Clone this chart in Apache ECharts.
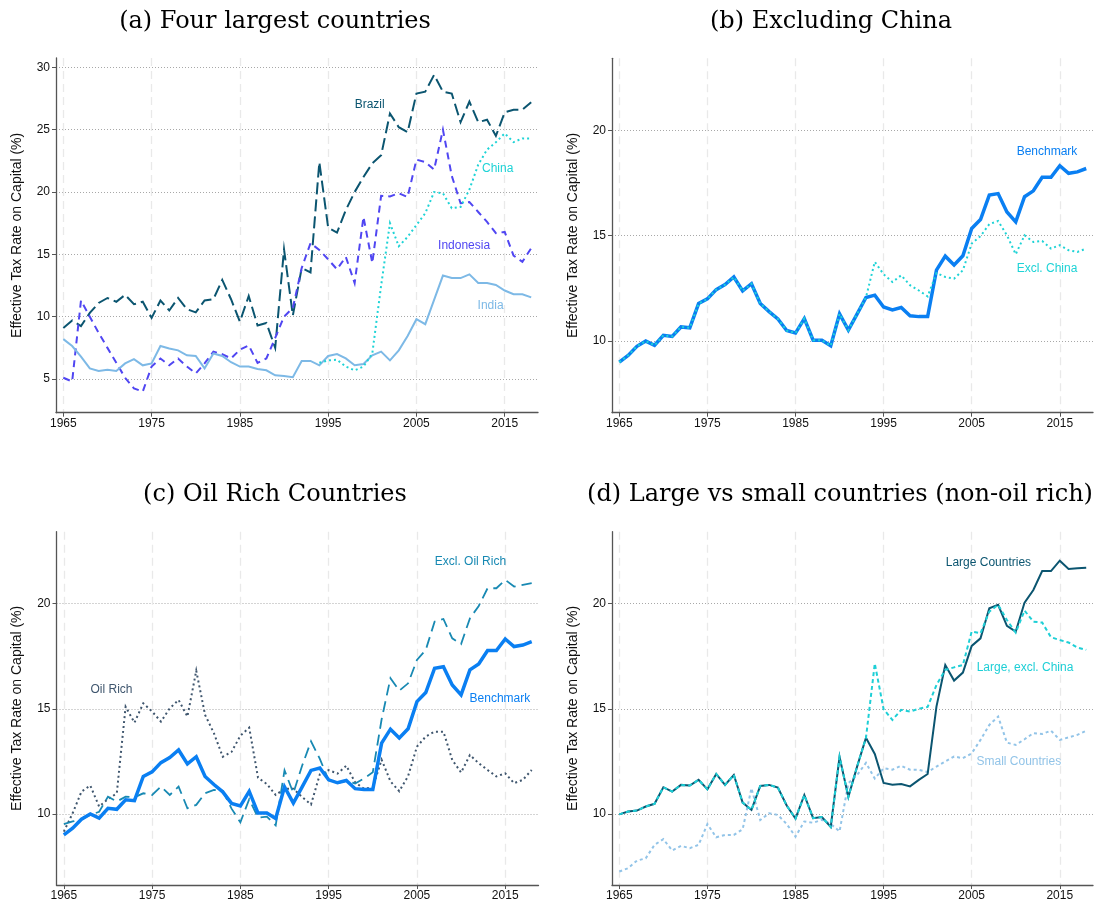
<!DOCTYPE html>
<html>
<head>
<meta charset="utf-8">
<script src="https://cdn.jsdelivr.net/npm/echarts@6/dist/echarts.min.js"></script>
<style>
html,body{margin:0;padding:0;background:#fff;}
#main{width:1095px;height:910px;}
</style>
</head>
<body>
<div id="main"></div>
<script>
// ---------- DATA ----------
const years = [];
for (let y = 1965; y <= 2018; y++) years.push(y);
const xTicks = [1965, 1975, 1985, 1995, 2005, 2015];
const yTicksA = [5, 10, 15, 20, 25, 30];
const yTicksB = [10, 15, 20];

const brazil = [9.1,9.7,9.25,10.3,11.1,11.5,11.2,11.75,11.0,11.2,9.9,11.3,10.5,11.5,10.6,10.35,11.3,11.4,12.95,11.4,
  9.6,11.66,9.3,9.5,7.5,15.4,10.1,13.9,13.55,22.4,17.15,16.75,18.55,20.0,21.2,22.3,22.95,26.3,25.2,24.8,
  27.9,28.05,29.4,28.05,27.9,25.6,27.25,25.6,25.8,24.5,26.4,26.6,26.6,27.2];
const indonesia = [5.1,4.8,11.3,10.0,8.7,7.5,6.3,5.1,4.25,4.0,6.0,6.65,6.1,6.65,6.0,5.45,6.25,7.2,7.0,6.65,
  7.35,7.7,6.3,6.65,8.3,10.0,10.7,13.9,15.9,15.35,14.6,13.8,14.8,12.7,18.0,14.3,19.7,19.65,19.9,19.6,
  22.6,22.4,21.8,25.0,21.3,19.1,19.2,18.4,17.6,16.7,16.8,14.9,14.4,15.5];
const india = [8.2,7.65,6.8,5.85,5.65,5.75,5.65,6.25,6.6,6.1,6.25,7.65,7.45,7.3,6.9,6.85,5.85,7.05,6.85,6.35,
  6.0,6.0,5.8,5.7,5.3,5.25,5.15,6.45,6.45,6.1,6.85,7.0,6.65,6.1,6.2,6.9,7.2,6.5,7.3,8.45,
  9.8,9.4,11.35,13.3,13.1,13.1,13.4,12.7,12.7,12.55,12.1,11.8,11.8,11.55];
const chinaYears = [1994,1995,1996,1997,1998,1999,2000,2001,2002,2003,2004,2005,2006,2007,2008,2009,2010,2011,2012,2013,2014,2015,2016,2017,2018];
const china = [6.3,6.5,6.55,6.0,5.7,6.0,7.05,12.5,17.5,15.65,16.4,17.35,18.3,20.0,19.9,18.7,18.8,20.2,22.2,23.4,24.0,24.7,24.0,24.3,24.3];

const benchmark = [9.0,9.32,9.75,10.0,9.8,10.27,10.22,10.67,10.63,11.78,12.0,12.44,12.68,13.04,12.38,12.72,11.78,11.4,11.05,10.5,
  10.38,11.07,10.04,10.04,9.78,11.29,10.52,11.29,12.07,12.18,11.62,11.48,11.59,11.2,11.16,11.16,13.37,14.03,13.61,14.05,
  15.34,15.77,16.93,17.0,16.13,15.66,16.85,17.13,17.77,17.77,18.32,17.96,18.03,18.19];
const exclChina = [9.0,9.32,9.75,10.0,9.8,10.27,10.22,10.67,10.63,11.78,12.0,12.44,12.68,13.04,12.38,12.72,11.78,11.4,11.05,10.5,
  10.38,11.07,10.04,10.04,9.78,11.29,10.52,11.29,12.07,13.76,13.17,12.8,13.12,12.65,12.4,12.12,13.23,13.04,12.96,13.36,
  14.63,14.98,15.55,15.7,15.02,14.12,15.02,14.7,14.75,14.39,14.55,14.31,14.23,14.39];

const exclOilRich = [9.51,9.64,9.75,9.95,10.1,10.82,10.59,10.82,10.79,10.98,10.9,11.3,10.9,11.3,10.27,10.43,10.98,11.14,11.1,10.25,
  9.6,10.7,9.82,9.87,9.45,12.07,10.99,12.3,13.45,12.62,11.6,11.47,11.57,11.45,11.68,11.98,14.5,16.45,15.86,16.21,
  17.32,17.8,19.14,19.27,18.35,18.08,19.3,19.89,20.73,20.73,21.13,20.81,20.89,20.97];
const oilRich = [9.16,10.03,11.06,11.35,10.35,10.7,10.98,15.1,14.34,15.26,14.87,14.39,15.02,15.42,14.63,16.81,14.71,13.84,12.72,12.95,
  13.72,14.1,11.72,11.42,10.9,11.2,11.2,10.8,10.45,11.88,12.08,11.92,12.29,11.5,11.2,11.25,12.58,11.55,11.08,11.8,
  13.2,13.68,13.91,13.91,12.57,11.97,12.8,12.41,12.09,11.78,11.93,11.46,11.62,12.09];

const largeCountries = [9.98,10.11,10.16,10.35,10.48,11.27,11.06,11.38,11.35,11.62,11.17,11.9,11.38,11.85,10.54,10.19,11.33,11.38,11.25,10.4,
  9.78,10.9,9.8,9.85,9.38,12.71,10.81,12.26,13.62,12.85,11.47,11.39,11.42,11.31,11.62,11.9,15.1,17.08,16.34,16.72,
  17.99,18.35,19.78,19.94,18.94,18.67,20.05,20.65,21.55,21.55,22.04,21.65,21.68,21.71];
const largeExclChina = [9.98,10.11,10.16,10.35,10.48,11.27,11.06,11.38,11.35,11.62,11.17,11.9,11.38,11.85,10.54,10.19,11.33,11.38,11.25,10.4,
  9.78,10.9,9.8,9.85,9.38,12.71,10.81,12.26,13.62,17.15,14.98,14.47,14.95,14.87,15.0,15.09,16.13,16.85,16.97,17.08,
  18.67,18.59,19.62,19.94,19.22,18.62,19.67,19.14,19.1,18.4,18.27,18.15,17.91,17.8];
const smallCountries = [7.26,7.42,7.78,7.89,8.53,8.8,8.26,8.48,8.37,8.53,9.52,8.89,9.0,9.0,9.27,11.22,9.71,10.03,9.95,9.52,
  8.92,9.64,9.58,9.72,9.52,9.17,11.46,11.85,12.43,11.68,12.17,12.1,12.29,12.1,12.1,11.99,12.25,12.49,12.73,12.65,
  12.88,13.52,14.23,14.63,13.39,13.28,13.55,13.84,13.8,13.96,13.52,13.64,13.76,13.95];

const titles = ['(a) Four largest countries', '(b) Excluding China', '(c) Oil Rich Countries', '(d) Large vs small countries (non-oil rich)'];
const yName = 'Effective Tax Rate on Capital (%)';

// ---------- HELPERS ----------
function pairs(xs, vs) { return xs.map((x, i) => [x, vs[i]]); }

const C = {
  brazil: '#0b5570', indonesia: '#5046f2', india: '#7db9e6', china: '#1ed3d6',
  bench: '#0a7ff2', exclOil: '#1889b3', oil: '#3f566e',
  large: '#0b5570', largeEx: '#1ecfd6', small: '#92c4e8'
};

function lbl(name, coord, color) {
  return {
    name: name, coord: coord,
    label: { show: true, formatter: name, color: color, fontSize: 12, fontFamily: 'Liberation Sans', position: 'inside' }
  };
}
function mp(items) {
  return { symbol: 'circle', symbolSize: 1, itemStyle: { color: 'rgba(0,0,0,0)' }, silent: true, data: items };
}
function line(name, data, gi, color, width, type, marks) {
  const s = {
    name: name, type: 'line', xAxisIndex: gi, yAxisIndex: gi, data: data,
    showSymbol: false, symbol: 'none', silent: true,
    lineStyle: { color: color, width: width, type: type, cap: 'butt', join: 'miter' },
    z: 3
  };
  if (marks) s.markPoint = mp(marks);
  return s;
}

const grids = [
  { left: 56, top: 58, width: 482, height: 354.7 },
  { left: 612, top: 58.3, width: 481, height: 354.4 },
  { left: 56.5, top: 531.7, width: 482, height: 353.3 },
  { left: 612, top: 531.7, width: 481, height: 353.3 }
];
const yRanges = [[2.3, 30.75, yTicksA], [6.6, 23.42, yTicksB], [6.62, 23.42, yTicksB], [6.62, 23.42, yTicksB]];

const xAxes = grids.map((g, i) => ({
  type: 'value', gridIndex: i, min: 1964.17, max: 2018.77,
  axisLine: { show: true, lineStyle: { color: '#555', width: 1.3 } },
  axisTick: { show: true, length: 4, customValues: xTicks, lineStyle: { color: '#555' } },
  axisLabel: { customValues: xTicks, color: '#111', fontSize: 12, fontFamily: 'Liberation Sans', margin: 5, formatter: v => String(v) },
  splitLine: { show: true, lineStyle: { color: '#e9e9e9', width: 1.3, type: [8, 5] } }
}));
const yAxes = grids.map((g, i) => ({
  type: 'value', gridIndex: i, min: yRanges[i][0], max: yRanges[i][1],
  name: yName, nameLocation: 'middle', nameGap: 32, nameRotate: 90,
  nameTextStyle: { color: '#111', fontSize: 14, fontFamily: 'Liberation Sans' },
  axisLine: { show: true, lineStyle: { color: '#555', width: 1.3 } },
  axisTick: { show: true, length: 4, customValues: yRanges[i][2], lineStyle: { color: '#555' } },
  axisLabel: { customValues: yRanges[i][2], color: '#111', fontSize: 12, fontFamily: 'Liberation Sans', margin: 6 },
  splitLine: { show: true, lineStyle: { color: '#a8a8a8', width: 1, type: [1, 2] } }
}));

const titleCenters = [[270, 5], [826, 5], [270, 478], [835, 478]];
const titleOpts = titles.map((t, i) => ({
  text: t, left: titleCenters[i][0], top: titleCenters[i][1], textAlign: 'center',
  textStyle: { fontFamily: 'DejaVu Serif', fontWeight: 'normal', fontSize: 24, color: '#000' }
}));

const series = [
  // (a)
  line('Brazil', pairs(years, brazil), 0, C.brazil, 2, [12, 5], [lbl('Brazil', [1999.7, 26.98], C.brazil)]),
  line('Indonesia', pairs(years, indonesia), 0, C.indonesia, 2, [7, 5], [lbl('Indonesia', [2010.4, 15.67], C.indonesia)]),
  line('India', pairs(years, india), 0, C.india, 2, 'solid', [lbl('India', [2013.4, 10.9], C.india)]),
  line('China', pairs(chinaYears, china), 0, C.china, 2, [2, 3], [lbl('China', [2014.2, 21.9], C.china)]),
  // (b)
  line('Benchmark', pairs(years, benchmark), 1, C.bench, 3.5, 'solid', [lbl('Benchmark', [2013.55, 18.98], C.bench)]),
  line('Excl. China', pairs(years, exclChina), 1, C.china, 2, [2, 3], [lbl('Excl. China', [2013.55, 13.44], C.china)]),
  // (c)
  line('Oil Rich', pairs(years, oilRich), 2, C.oil, 2, [2, 3], [lbl('Oil Rich', [1970.4, 15.93], C.oil)]),
  line('Excl. Oil Rich', pairs(years, exclOilRich), 2, C.exclOil, 1.8, [11, 6], [lbl('Excl. Oil Rich', [2011.06, 22.0], C.exclOil)]),
  line('Benchmark c', pairs(years, benchmark), 2, C.bench, 3.5, 'solid', [lbl('Benchmark', [2014.4, 15.47], C.bench)]),
  // (d)
  line('Small Countries', pairs(years, smallCountries), 3, C.small, 2, [3, 3], [lbl('Small Countries', [2010.35, 12.46], C.small)]),
  line('Large Countries', pairs(years, largeCountries), 3, C.large, 2, 'solid', [lbl('Large Countries', [2006.9, 21.97], C.large)]),
  line('Large, excl. China', pairs(years, largeExclChina), 3, C.largeEx, 2, [4, 3], [lbl('Large, excl. China', [2011.05, 16.96], C.largeEx)])
];

const chart = echarts.init(document.getElementById('main'), null, { renderer: 'canvas' });
chart.setOption({
  backgroundColor: '#fff',
  animation: false,
  title: titleOpts,
  grid: grids,
  xAxis: xAxes,
  yAxis: yAxes,
  series: series
});
</script>
</body>
</html>
